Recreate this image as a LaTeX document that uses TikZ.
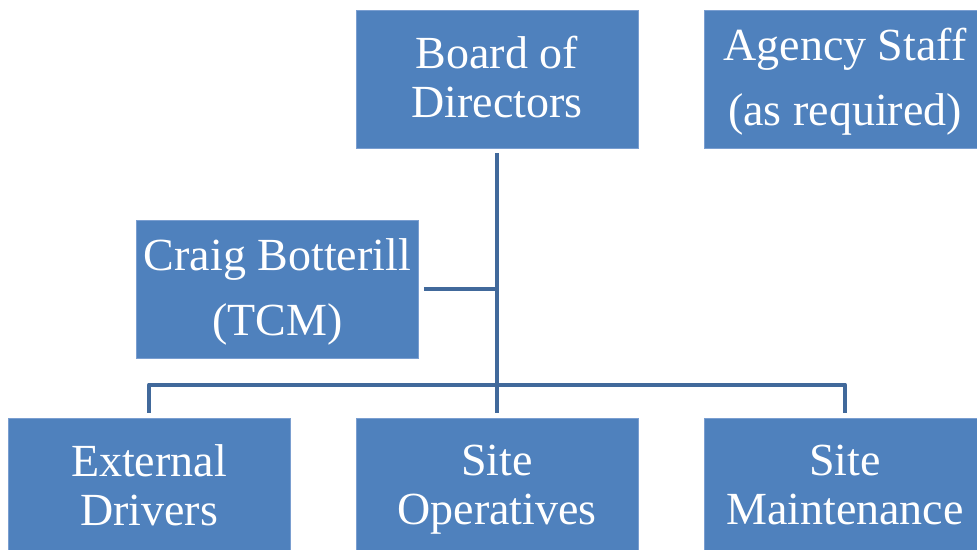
\documentclass[tikz,border=0pt]{standalone}
\usepackage{fontspec}
\setmainfont{Liberation Serif}
\usepackage{xcolor}
\usepackage{tikz}
\definecolor{orgFill}{HTML}{4F81BD}
\definecolor{orgEdge}{HTML}{7A9ED0}
\definecolor{orgLine}{HTML}{41699B}

\begin{document}
\begin{tikzpicture}[x=1pt, y=-1pt,
      unit/.style={draw=orgEdge, fill=orgFill, line width=0.8pt, text=white,
                   minimum width=282pt, minimum height=138pt, inner sep=0pt,
                   align=center, font=\fontsize{46}{49}\selectfont,
                   text depth=4pt},  % same last-line depth in every box
      link/.style={draw=orgLine, line width=4pt, line join=round}
    ]
    \useasboundingbox (0,0) rectangle (977,549);
    \clip (0,0) rectangle (977,549);
    \node[unit] (board)   at (497,79)    {Board of\\Directors};
    \node[unit] (agency)  at (845,79)    {Agency Staff\\[16pt](as required)};
    \node[unit] (tcm)     at (277.5,289) {Craig Botterill\\[16pt](TCM)};
    \node[unit] (drivers) at (149,487)   {External\\Drivers};
    \node[unit] (ops)     at (497,487)   {Site\\Operatives};
    \node[unit] (maint)   at (845,487)   {Site\\Maintenance};
    \draw[link, shorten <=5pt, shorten >=5pt] (board.south) -- (ops.north);
    \draw[link, shorten <=5pt] (tcm.east) -- (tcm.east -| board.south);
    \draw[link, shorten <=5pt, shorten >=5pt]
      (drivers.north) |- ([yshift=33pt]ops.north) -| (maint.north);
  \end{tikzpicture}
\end{document}
